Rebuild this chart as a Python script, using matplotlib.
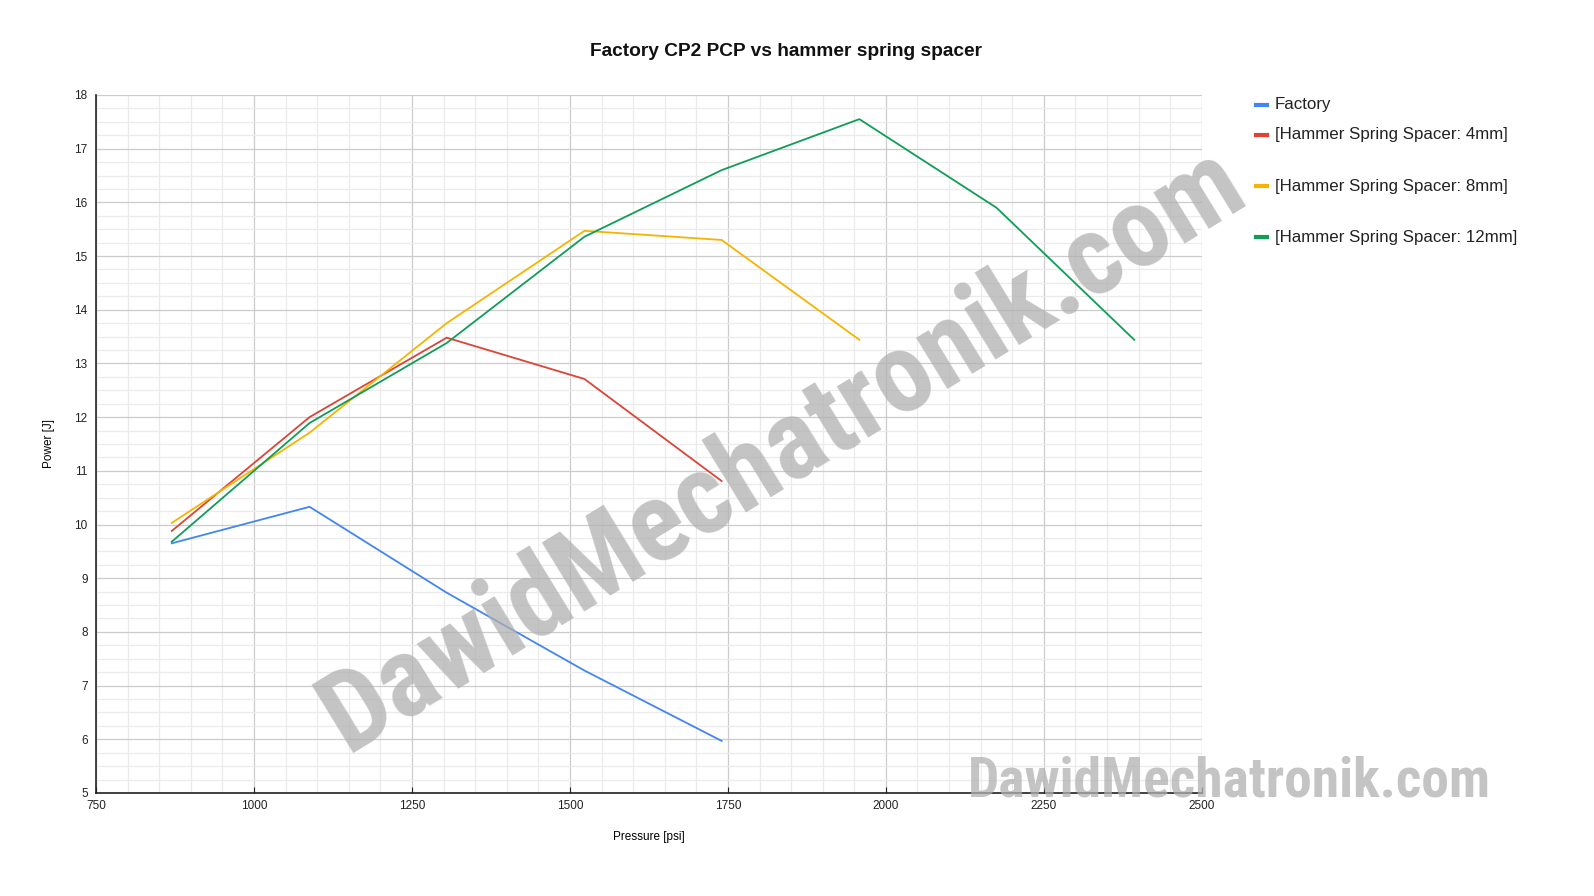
import matplotlib.pyplot as plt
from matplotlib.lines import Line2D
from matplotlib.ticker import MultipleLocator

# ---------------------- Data ---------------------- #
pressure = [870, 1088, 1305, 1523, 1740, 1958, 2175, 2393]  # psi (60..165 bar)

factory = [9.65, 10.33, 8.73, 7.28, 5.97]
spacer_4mm = [9.88, 12.0, 13.48, 12.71, 10.81]
spacer_8mm = [10.03, 11.71, 13.75, 15.47, 15.3, 13.44]
spacer_12mm = [9.68, 11.89, 13.38, 15.36, 16.6, 17.55, 15.9, 13.44]

labels = ['Factory', '[Hammer Spring Spacer: 4mm]',
          '[Hammer Spring Spacer: 8mm]', '[Hammer Spring Spacer: 12mm]']
colors = ['#4285F4', '#DB4437', '#F4B400', '#0F9D58']
# -------------------------------------------------- #

plt.rcParams['font.family'] = ['Liberation Sans', 'DejaVu Sans']

fig = plt.figure(figsize=(15.94, 8.96), dpi=100)
ax = fig.add_axes([0.0602, 0.115, 0.6938, 0.779])

series = [factory, spacer_4mm, spacer_8mm, spacer_12mm]
for vals, col in zip(series, colors):
    ax.plot(pressure[:len(vals)], vals, color=col, linewidth=1.3, zorder=3)

ax.set_xlim(750, 2500)
ax.set_ylim(5, 18)
ax.xaxis.set_major_locator(MultipleLocator(250))
ax.xaxis.set_minor_locator(MultipleLocator(50))
ax.yaxis.set_major_locator(MultipleLocator(1))
ax.yaxis.set_minor_locator(MultipleLocator(0.25))
ax.grid(which='major', color='#cccccc', linewidth=0.9)
ax.grid(which='minor', color='#ebebeb', linewidth=0.9)
ax.set_axisbelow(True)

for s in ['top', 'right']:
    ax.spines[s].set_visible(False)
ax.spines['left'].set_color('#222222')
ax.spines['bottom'].set_color('#222222')
ax.spines['left'].set_linewidth(1.2)
ax.spines['bottom'].set_linewidth(1.2)
ax.tick_params(axis='x', which='major', direction='in', length=4, labelsize=8.5, colors='#222222', pad=5)
ax.tick_params(axis='y', which='major', length=0, labelsize=8.5, colors='#222222', pad=6)
ax.tick_params(which='minor', length=0)

ax.set_xlabel('Pressure [psi]', fontsize=8.5, labelpad=14)
ax.set_ylabel('Power [J]', fontsize=8.5, labelpad=14)

fig.text(0.493, 0.942, 'Factory CP2 PCP vs hammer spring spacer', ha='center', va='center',
         fontsize=13.8, fontweight='bold', color='#111111')

# legend, drawn by hand to keep the uneven spacing
legend_y = [105, 135, 186, 237]
for lab, col, py in zip(labels, colors, legend_y):
    yf = 1 - py / 896
    fig.add_artist(Line2D([1256 / 1594, 1267 / 1594], [yf, yf], color=col, linewidth=3,
                          transform=fig.transFigure))
    fig.text(1275 / 1594, yf, lab, ha='left', va='center', fontsize=12.2, color='#222222')

# watermarks
wm_font = ['Roboto Condensed', 'Roboto', 'DejaVu Sans']
fig.text(0.491, 0.498, 'DawidMechatronik.com', ha='center', va='center', rotation=31.5,
         fontsize=81, fontweight='bold', fontstretch='condensed', family=wm_font,
         color='#b0b0b0', alpha=0.75, zorder=5)
fig.text(0.771, 0.128, 'DawidMechatronik.com', ha='center', va='center',
         fontsize=40, fontweight='bold', fontstretch='condensed', family=wm_font,
         color='#b0b0b0', alpha=0.75, zorder=5)

fig.savefig('out.png', dpi=100, facecolor='white')
